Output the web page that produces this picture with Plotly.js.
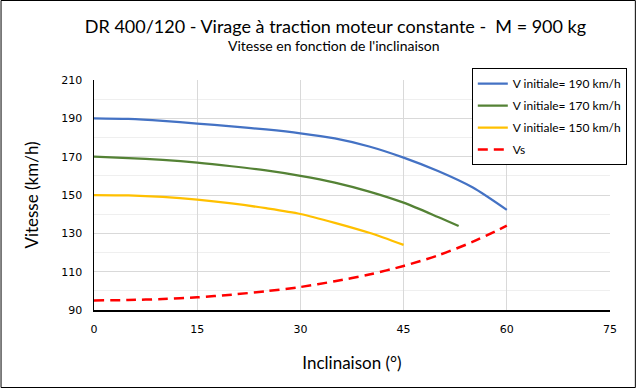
<!DOCTYPE html>
<html>
<head>
<meta charset="utf-8">
<script src="https://cdn.plot.ly/plotly-3.0.1.min.js"></script>
<style>html,body{margin:0;padding:0;background:#fff;}#chart{width:639px;height:388px;}</style>
</head>
<body>
<div id="chart"></div>
<script>
const xBlue = [0, 5, 10, 15, 20, 25, 30, 35, 40, 45, 50, 55, 60];
const yBlue = [190, 189.7, 188.7, 187.3, 185.8, 184.2, 182.2, 179.5, 175.3, 169.5, 162.5, 154, 142.2];
const xGreen = [0, 5, 10, 15, 20, 25, 30, 35, 40, 45, 50, 53];
const yGreen = [170, 169.3, 168.3, 166.9, 165, 162.8, 160, 156.5, 151.8, 146, 138.5, 133.8];
const xYellow = [0, 5, 10, 15, 20, 25, 30, 35, 40, 45];
const yYellow = [150, 149.8, 149, 147.6, 145.6, 143.1, 140.1, 135.5, 130.3, 124];
const xVs = [0, 5, 10, 15, 20, 25, 30, 35, 40, 45, 50, 55, 60];
const yVs = [95, 95.2, 95.7, 96.6, 98, 99.8, 102, 105, 108.5, 113, 118.5, 125.5, 134];
const names = ["V initiale= 190 km/h", "V initiale= 170 km/h", "V initiale= 150 km/h", "Vs"];

const traces = [
  {x: xBlue, y: yBlue, name: names[0], legendgroup: 'a', mode: 'lines', line: {color: '#4472C4', width: 2.25, shape: 'spline', smoothing: 0.8}},
  {x: xGreen, y: yGreen, name: names[1], legendgroup: 'b', mode: 'lines', line: {color: '#548235', width: 2.25, shape: 'spline', smoothing: 0.8}},
  {x: xYellow, y: yYellow, name: names[2], legendgroup: 'c', mode: 'lines', line: {color: '#FFC000', width: 2.25, shape: 'spline', smoothing: 0.8}},
  {x: xVs, y: yVs, name: names[3], legendgroup: 'd', mode: 'lines', line: {color: '#FF0000', width: 2.5, dash: '10px,6px', shape: 'spline', smoothing: 0.8}}
];

const layout = {
  width: 639, height: 388,
  margin: {l: 94, r: 26, t: 80, b: 78},
  paper_bgcolor: '#fff', plot_bgcolor: '#fff',
  showlegend: true,
  title: {
    text: 'DR 400/120 - Virage à traction moteur constante -  M = 900 kg',
    font: {family: 'Lato, sans-serif', size: 18, color: '#000'},
    x: 0.525, xanchor: 'center', y: 0.93, yanchor: 'middle', yref: 'container'
  },
  annotations: [{
    text: "Vitesse en fonction de l'inclinaison",
    xref: 'paper', yref: 'paper', x: 0.465, y: (310 - 46) / 230,
    xanchor: 'center', yanchor: 'middle', showarrow: false,
    font: {family: 'Lato, sans-serif', size: 14, color: '#000'}
  }],
  xaxis: {
    range: [0, 75], tickvals: [0, 15, 30, 45, 60, 75],
    showgrid: true, gridcolor: '#d9d9d9', gridwidth: 1,
    showline: true, linecolor: '#000', linewidth: 1.5,
    zeroline: false, ticks: '', ticklabelstandoff: 8,
    tickfont: {family: 'DejaVu Sans, Verdana, sans-serif', size: 11, color: '#000'},
    title: {text: 'Inclinaison (°)', font: {family: 'Lato, sans-serif', size: 17, color: '#000'}, standoff: 22},
    fixedrange: true
  },
  yaxis: {
    range: [90, 210], tick0: 90, dtick: 20,
    showgrid: true, gridcolor: '#d9d9d9', gridwidth: 1,
    minor: {dtick: 10, tick0: 90, showgrid: true, gridcolor: '#efefef', gridwidth: 1},
    showline: true, linecolor: '#000', linewidth: 1.5,
    zeroline: false, ticks: '', ticklabelstandoff: 8,
    tickfont: {family: 'DejaVu Sans, Verdana, sans-serif', size: 11, color: '#000'},
    title: {text: 'Vitesse (km/h)', font: {family: 'Lato, sans-serif', size: 17, color: '#000'}, standoff: 18},
    fixedrange: true
  },
  legend: {
    x: (474 - 94) / 519, y: (310 - 68) / 230, xanchor: 'left', yanchor: 'top',
    bgcolor: '#fff', bordercolor: '#000', borderwidth: 1,
    font: {family: 'Lato, sans-serif', size: 12, color: '#000'},
    tracegroupgap: 3, itemwidth: 30
  },
  shapes: [{
    type: 'rect', xref: 'paper', yref: 'paper',
    x0: (0.5 - 94) / 519, x1: (638.5 - 94) / 519,
    y0: (310 - 387.5) / 230, y1: (310 - 0.5) / 230,
    line: {color: '#000', width: 1}, fillcolor: 'rgba(0,0,0,0)', layer: 'below'
  }]
};

Plotly.newPlot('chart', traces, layout, {displayModeBar: false, staticPlot: true});
</script>
</body>
</html>
